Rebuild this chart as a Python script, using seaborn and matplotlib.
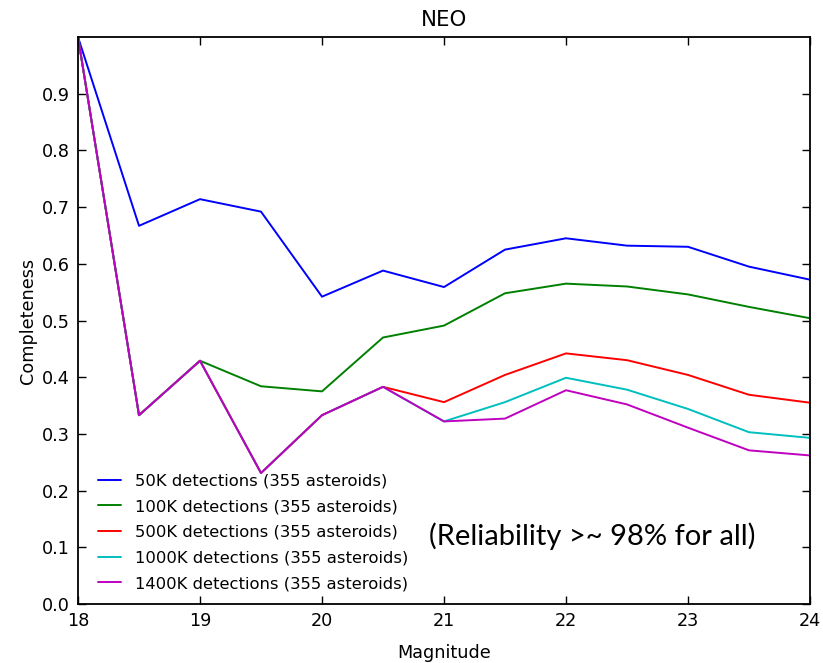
import numpy as np
import pandas as pd
import matplotlib
matplotlib.use('Agg')
import matplotlib.pyplot as plt
import seaborn as sns

# magnitude bins
magnitude = [18, 18.5, 19, 19.5, 20, 20.5, 21, 21.5, 22, 22.5, 23, 23.5, 24]

# completeness per detection count
c_50k   = [1.0, 0.667, 0.714, 0.692, 0.542, 0.588, 0.559, 0.625, 0.645, 0.632, 0.630, 0.595, 0.572]
c_100k  = [1.0, 0.333, 0.429, 0.384, 0.375, 0.470, 0.491, 0.548, 0.565, 0.560, 0.546, 0.524, 0.504]
c_500k  = [1.0, 0.333, 0.429, 0.231, 0.333, 0.383, 0.356, 0.404, 0.442, 0.430, 0.404, 0.369, 0.355]
c_1000k = [1.0, 0.333, 0.429, 0.231, 0.333, 0.383, 0.322, 0.356, 0.399, 0.378, 0.344, 0.303, 0.293]
c_1400k = [1.0, 0.333, 0.429, 0.231, 0.333, 0.383, 0.322, 0.327, 0.377, 0.352, 0.311, 0.271, 0.262]

labels = ['50K detections (355 asteroids)', '100K detections (355 asteroids)',
          '500K detections (355 asteroids)', '1000K detections (355 asteroids)',
          '1400K detections (355 asteroids)']
series = [c_50k, c_100k, c_500k, c_1000k, c_1400k]
colors = ['#0000ff', '#008000', '#ff0000', '#00bfbf', '#bf00bf']

df = pd.concat([pd.DataFrame({'Magnitude': magnitude, 'Completeness': s, 'run': l})
                for s, l in zip(series, labels)])

sns.set_style('ticks')
plt.rcParams['font.family'] = ['DejaVu Sans']
plt.rcParams['text.color'] = 'black'
plt.rcParams['axes.labelcolor'] = 'black'
plt.rcParams['xtick.color'] = 'black'
plt.rcParams['ytick.color'] = 'black'
plt.rcParams['axes.edgecolor'] = 'black'

fig = plt.figure(figsize=(8.23, 6.63), dpi=100)
ax = fig.add_axes([78/823, 1 - 604/663, (810-78)/823, (604-37)/663])

sns.lineplot(data=df, x='Magnitude', y='Completeness', hue='run', palette=colors,
             linewidth=1.4, ax=ax, legend=True)

ax.set_xlim(18, 24)
ax.set_ylim(0, 1.0)
ax.set_xticks([18, 19, 20, 21, 22, 23, 24])
ax.set_yticks(np.arange(0, 1.0, 0.1))
ax.set_yticklabels(['0.0', '0.1', '0.2', '0.3', '0.4', '0.5', '0.6', '0.7', '0.8', '0.9'])
ax.minorticks_off()
ax.tick_params(direction='in', top=True, right=True, labelsize=12.7, length=6, width=1, pad=6)
for sp in ax.spines.values():
    sp.set_linewidth(1.3)
ax.set_xlabel('Magnitude', fontsize=12.7, labelpad=9.5)
ax.set_ylabel('Completeness', fontsize=12.7, labelpad=3)
ax.set_title('NEO', fontsize=15.3, pad=8)

leg = ax.legend(loc='lower left', bbox_to_anchor=(0, -0.012), frameon=False, fontsize=11.8,
                handlelength=1.4, handletextpad=0.9, borderaxespad=0.8, borderpad=0.4,
                labelspacing=0.65)

ax.text(0.479, 0.12, '(Reliability >~ 98% for all)', transform=ax.transAxes,
        fontsize=21, family=['Lato', 'DejaVu Sans'], ha='left', va='center')

fig.savefig('out.png', dpi=100)
